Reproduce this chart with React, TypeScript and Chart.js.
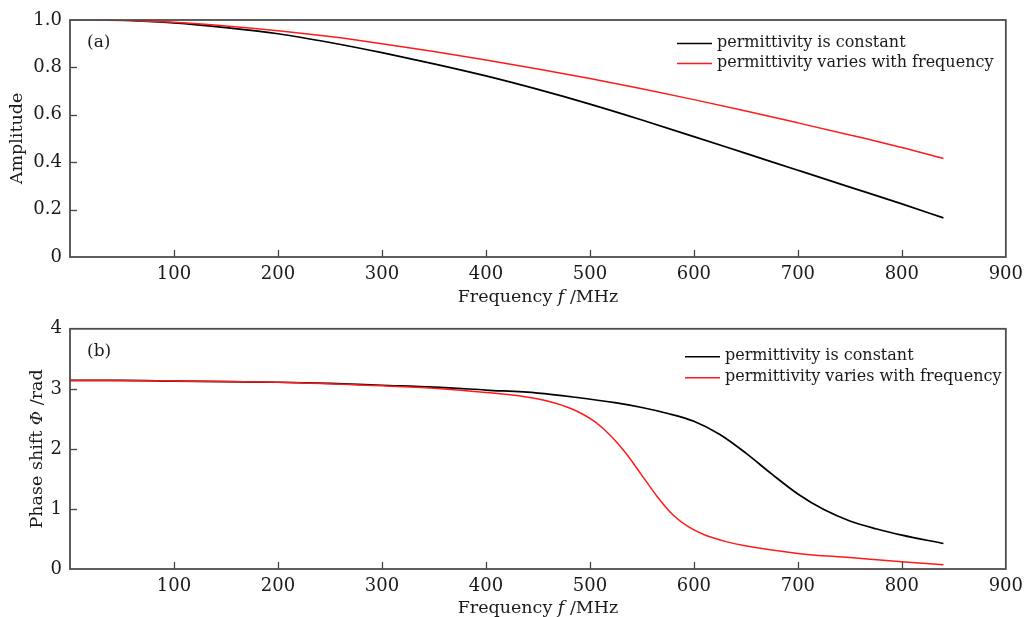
import React, { useEffect, useRef } from 'react';
import { Chart, registerables } from 'chart.js';

Chart.register(...registerables);

const FONT = '"DejaVu Serif", "Liberation Serif", serif';

// ---------- data ----------
const seriesLabels = ['permittivity is constant', 'permittivity varies with frequency'];

// (a) amplitude
const ampFreqConst = [46, 100, 150, 200, 250, 300, 350, 400, 450, 500, 550, 600, 650, 700, 750, 800, 840];
const ampConst = [1.0, 0.988, 0.968, 0.942, 0.905, 0.862, 0.815, 0.764, 0.707, 0.645, 0.578, 0.508, 0.437, 0.366, 0.295, 0.224, 0.165];
const ampFreqVary = [0, 50, 100, 150, 200, 250, 300, 350, 400, 450, 500, 550, 600, 650, 700, 750, 800, 840];
const ampVary = [1.0, 0.998, 0.99, 0.975, 0.955, 0.93, 0.9, 0.867, 0.831, 0.793, 0.753, 0.71, 0.664, 0.616, 0.566, 0.515, 0.462, 0.416];

// (b) phase shift
const phaseFreqConst = [0, 50, 100, 150, 200, 250, 300, 350, 400, 450, 486, 524, 550, 575, 600, 625, 650, 675, 700, 725, 750, 775, 800, 840];
const phaseConst = [3.14, 3.14, 3.13, 3.12, 3.11, 3.09, 3.06, 3.03, 2.98, 2.93, 2.86, 2.77, 2.69, 2.59, 2.46, 2.24, 1.93, 1.58, 1.25, 0.99, 0.8, 0.67, 0.565, 0.425];
const phaseFreqVary = [0, 100, 200, 300, 350, 400, 448, 467, 486, 505, 520, 535, 550, 565, 580, 595, 610, 630, 648, 700, 750, 800, 840];
const phaseVary = [3.14, 3.13, 3.11, 3.05, 3.01, 2.94, 2.84, 2.76, 2.64, 2.45, 2.22, 1.92, 1.56, 1.2, 0.9, 0.7, 0.57, 0.46, 0.39, 0.26, 0.19, 0.12, 0.07];

const xMin = 0;
const xMax = 900;
const xStep = 100;

type Seg = { t: string; i?: boolean };

function drawSegs(ctx: CanvasRenderingContext2D, segs: Seg[], size: number, cx: number, cy: number, rot: number) {
  ctx.save();
  ctx.translate(cx, cy);
  ctx.rotate(rot);
  let total = 0;
  const widths = segs.map((s) => {
    ctx.font = `${s.i ? 'italic ' : ''}${size}px ${FONT}`;
    const w = ctx.measureText(s.t).width;
    total += w;
    return w;
  });
  let x = -total / 2;
  ctx.fillStyle = '#1a1a1a';
  ctx.textBaseline = 'middle';
  ctx.textAlign = 'left';
  segs.forEach((s, k) => {
    ctx.font = `${s.i ? 'italic ' : ''}${size}px ${FONT}`;
    ctx.fillText(s.t, x, 0);
    x += widths[k];
  });
  ctx.restore();
}

const paperPlugin = {
  id: 'paper',
  afterDatasetsDraw(chart: any, _args: any, opts: any) {
    const { ctx, chartArea } = chart;
    const { left, right, top, bottom } = chartArea;
    ctx.save();
    // inward ticks
    ctx.strokeStyle = '#444';
    ctx.lineWidth = 1.3;
    const xs = chart.scales.x;
    xs.ticks.forEach((t: any) => {
      const px = Math.round(xs.getPixelForValue(t.value)) + 0.5;
      if (px <= left + 1 || px >= right - 1) return;
      ctx.beginPath();
      ctx.moveTo(px, bottom);
      ctx.lineTo(px, bottom - 7);
      ctx.stroke();
    });
    const ys = chart.scales.y;
    ys.ticks.forEach((t: any) => {
      const py = Math.round(ys.getPixelForValue(t.value)) + 0.5;
      if (py <= top + 1 || py >= bottom - 1) return;
      ctx.beginPath();
      ctx.moveTo(left, py);
      ctx.lineTo(left + 7, py);
      ctx.stroke();
    });
    // frame
    ctx.strokeStyle = '#4d4d4d';
    ctx.lineWidth = 1.8;
    ctx.strokeRect(left, top, right - left, bottom - top);

    // panel label
    ctx.fillStyle = '#1a1a1a';
    ctx.font = `17px ${FONT}`;
    ctx.textBaseline = 'middle';
    ctx.textAlign = 'left';
    ctx.fillText(opts.panel, left + 17, top + opts.panelDy);

    // legend
    ctx.font = `16px ${FONT}`;
    chart.data.datasets.forEach((ds: any, k: number) => {
      const ly = top + opts.legendDy + k * opts.legendGap;
      const lx = left + opts.legendDx;
      ctx.strokeStyle = ds.borderColor;
      ctx.lineWidth = 1.6;
      ctx.beginPath();
      ctx.moveTo(lx, ly);
      ctx.lineTo(lx + 35, ly);
      ctx.stroke();
      ctx.fillStyle = '#1a1a1a';
      ctx.fillText(ds.label, lx + 40, ly - 1);
    });
    ctx.restore();

    // axis titles
    drawSegs(ctx, opts.xTitle, 17.5, (left + right) / 2, bottom + opts.xTitleDy, 0);
    drawSegs(ctx, opts.yTitle, 17.5, opts.yTitleX, (top + bottom) / 2, -Math.PI / 2);
  },
};

function toPoints(xs: number[], ys: number[]) {
  return xs.map((x, k) => ({ x, y: ys[k] }));
}

function makeConfig(p: any) {
  return {
    type: 'line',
    data: {
      datasets: [
        {
          label: seriesLabels[0],
          data: toPoints(p.fx0, p.y0),
          borderColor: '#000000',
          borderWidth: 1.7,
          pointRadius: 0,
          cubicInterpolationMode: 'monotone',
          order: 1,
        },
        {
          label: seriesLabels[1],
          data: toPoints(p.fx1, p.y1),
          borderColor: '#ff1a1a',
          borderWidth: 1.5,
          pointRadius: 0,
          cubicInterpolationMode: 'monotone',
          order: 0,
        },
      ],
    },
    options: {
      responsive: false,
      animation: false,
      devicePixelRatio: 1,
      layout: { padding: { top: p.padTop, right: 18, left: 0, bottom: 0 } },
      plugins: {
        legend: { display: false },
        tooltip: { enabled: false },
        paper: p.paper,
      },
      scales: {
        x: {
          type: 'linear',
          min: xMin,
          max: xMax,
          grid: { display: false, drawTicks: false },
          border: { display: false },
          ticks: {
            stepSize: xStep,
            padding: 7,
            color: '#1a1a1a',
            font: { family: FONT, size: 18 },
            maxRotation: 0,
            callback: (v: number) => (v === 0 ? '' : String(v)),
          },
          afterFit: (s: any) => {
            s.height = p.xHeight;
          },
        },
        y: {
          type: 'linear',
          min: p.yMin,
          max: p.yMax,
          grid: { display: false, drawTicks: false },
          border: { display: false },
          ticks: {
            stepSize: p.yStep,
            padding: 8,
            color: '#1a1a1a',
            font: { family: FONT, size: 18 },
            callback: p.yFmt,
          },
          afterFit: (s: any) => {
            s.width = 70;
          },
        },
      },
    },
    plugins: [paperPlugin],
  };
}

function Panel({ cfg, top, height }: { cfg: any; top: number; height: number }) {
  const ref = useRef<HTMLCanvasElement>(null);
  useEffect(() => {
    if (!ref.current) return;
    const chart = new Chart(ref.current, makeConfig(cfg) as any);
    return () => chart.destroy();
  }, []);
  return (
    <canvas
      ref={ref}
      width={1030}
      height={height}
      style={{ position: 'absolute', left: 0, top, width: 1030, height }}
    />
  );
}

const panelA = {
  fx0: ampFreqConst,
  y0: ampConst,
  fx1: ampFreqVary,
  y1: ampVary,
  yMin: 0,
  yMax: 1,
  yStep: 0.2,
  yFmt: (v: number) => (v === 0 ? '0' : v.toFixed(1)),
  padTop: 20,
  xHeight: 53,
  paper: {
    panel: '(a)',
    panelDy: 23,
    legendDx: 607,
    legendDy: 23.5,
    legendGap: 20,
    xTitleDy: 40,
    yTitleX: 17,
    xTitle: [{ t: 'Frequency ' }, { t: 'f', i: true }, { t: ' /MHz' }],
    yTitle: [{ t: 'Amplitude' }],
  },
};

const panelB = {
  fx0: phaseFreqConst,
  y0: phaseConst,
  fx1: phaseFreqVary,
  y1: phaseVary,
  yMin: 0,
  yMax: 4,
  yStep: 1,
  yFmt: (v: number) => String(v),
  padTop: 14,
  xHeight: 48,
  paper: {
    panel: '(b)',
    panelDy: 23,
    legendDx: 615,
    legendDy: 28,
    legendGap: 21,
    xTitleDy: 39,
    yTitleX: 37,
    xTitle: [{ t: 'Frequency ' }, { t: 'f', i: true }, { t: ' /MHz' }],
    yTitle: [{ t: 'Phase shift ' }, { t: 'Φ', i: true }, { t: ' /rad' }],
  },
};

export default function App() {
  return (
    <div style={{ position: 'absolute', left: 0, top: 0, width: 1030, height: 617, background: '#fff', overflow: 'hidden' }}>
      <Panel cfg={panelA} top={0} height={310} />
      <Panel cfg={panelB} top={310} height={307} />
    </div>
  );
}
